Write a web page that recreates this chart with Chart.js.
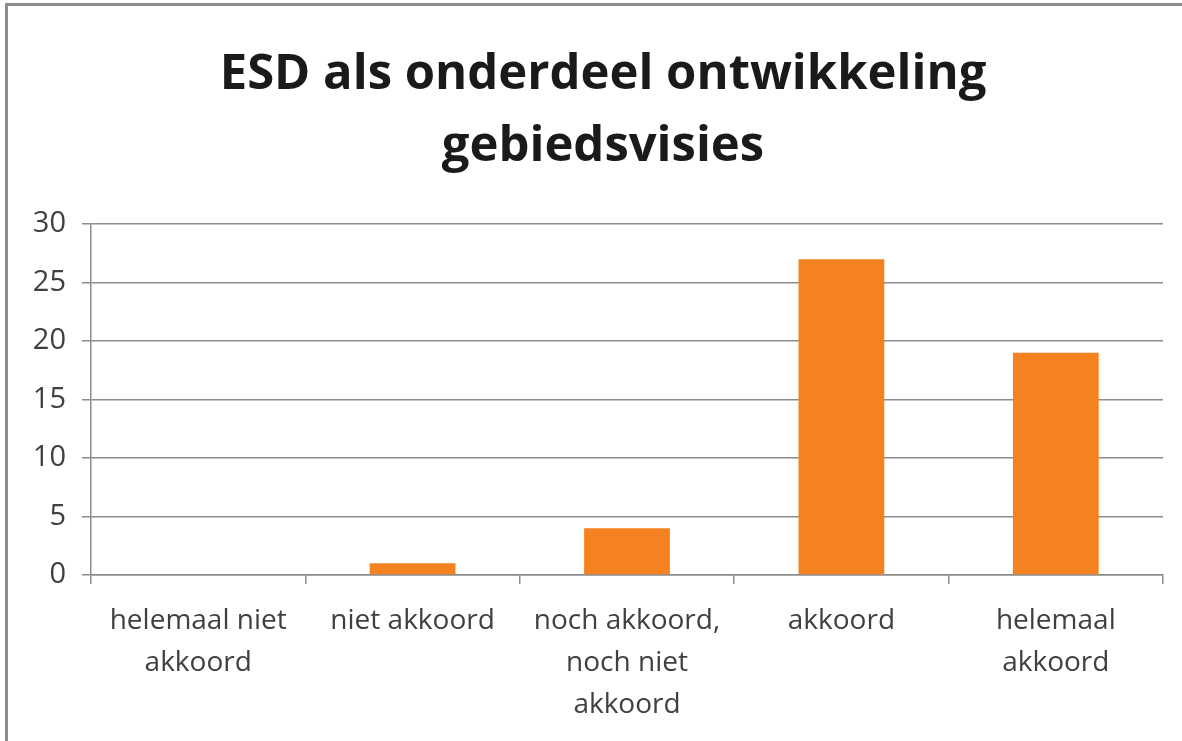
<!DOCTYPE html>
<html>
<head>
<meta charset="utf-8">
<script src="https://cdn.jsdelivr.net/npm/chart.js@4.4.1/dist/chart.umd.min.js"></script>
<style>
  html, body { margin: 0; padding: 0; background: #fff; overflow: hidden; }
  #frame {
    position: absolute; left: 5px; top: 3px; width: 1300px; height: 900px;
    border-left: 3px solid #8c8c8c; border-top: 3px solid #8c8c8c;
  }
  #wrap { position: absolute; left: 0; top: 0; width: 1182px; height: 741px; }
</style>
</head>
<body>
<div id="frame"></div>
<div id="wrap"><canvas id="esdChart"></canvas></div>
<script>
const categories = [
  ['helemaal niet', 'akkoord'],
  'niet akkoord',
  ['noch akkoord,', 'noch niet', 'akkoord'],
  'akkoord',
  ['helemaal', 'akkoord']
];
const counts = [0, 1, 4, 27, 19];
const yTicks = [0, 5, 10, 15, 20, 25, 30];

const FONT = "'Open Sans', sans-serif";
const GRID = '#8c8c8c';

// the left padding (for title centring) would clip the y labels, so let the axis box reach the edge
const widenYAxis = {
  id: 'widenYAxis',
  afterLayout(chart) { chart.scales.y.left = 0; }
};

const ctx = document.getElementById('esdChart').getContext('2d');

const chart = new Chart(ctx, {
  type: 'bar',
  data: {
    labels: categories,
    datasets: [{
      data: counts,
      backgroundColor: '#f58220',
      borderWidth: 0,
      categoryPercentage: 1,
      barPercentage: 0.4
    }]
  },
  options: {
    responsive: true,
    maintainAspectRatio: false,
    animation: false,
    // left padding shifts the centred title to where the original sits
    layout: { padding: { left: 43, right: 19, top: 0, bottom: 0 } },
    scales: {
      y: {
        min: 0, max: 30,
        afterBuildTicks: (s) => { s.ticks = yTicks.map(v => ({ value: v })); },
        afterFit: (s) => { s.width = 48; },
        border: { color: GRID, width: 1.5 },
        grid: { color: GRID, lineWidth: 1.5, tickLength: 9 },
        ticks: { color: '#404040', font: { family: FONT, size: 29 }, padding: 16 }
      },
      x: {
        afterFit: (s) => { s.height = 166; },
        border: { color: GRID, width: 1.5 },
        grid: { drawOnChartArea: false, offset: true, color: GRID, lineWidth: 1.5, tickLength: 9 },
        ticks: { color: '#404040', font: { family: FONT, size: 28, lineHeight: 1.5 }, padding: 16, maxRotation: 0, autoSkip: false }
      }
    },
    plugins: {
      legend: { display: false },
      tooltip: { enabled: false },
      title: {
        display: true,
        text: ['ESD als onderdeel ontwikkeling', 'gebiedsvisies'],
        color: '#1a1a1a',
        font: { family: FONT, size: 49, weight: 'bold', lineHeight: 1.45 },
        padding: { top: 40, bottom: 42 }
      }
    }
  },
  plugins: [widenYAxis]
});
</script>
</body>
</html>
